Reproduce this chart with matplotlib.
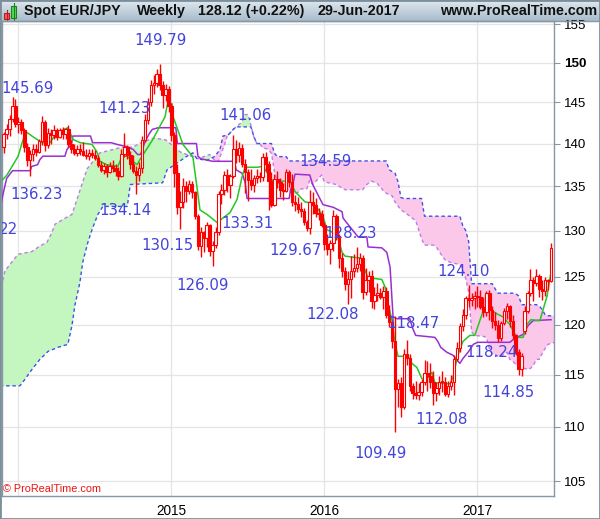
import numpy as np
import matplotlib
matplotlib.use("Agg")
import matplotlib.pyplot as plt
from matplotlib.patches import Rectangle
from matplotlib.lines import Line2D
from matplotlib.ticker import FixedLocator, NullLocator
from matplotlib.colors import LinearSegmentedColormap

# ---------------- data (weekly bars, index 0 = week of 2 Dec 2013) ----------------
opens = [139.6,141.1,141.7,142.9,144.5,142.4,142.6,141.6,139.6,138.0,
         138.8,139.4,139.0,140.3,142.6,139.8,141.3,141.0,141.6,140.8,
         141.6,141.2,141.7,139.9,139.3,138.9,139.4,139.1,138.7,138.5,
         138.9,138.6,138.3,137.5,136.9,137.4,136.6,137.3,137.1,136.8,
         136.2,138.8,139.6,138.6,137.6,136.8,136.3,137.1,140.4,142.8,
         145.0,147.2,147.4,148.6,147.1,145.9,146.7,144.6,141.0,136.5,
         132.6,133.2,135.0,134.5,135.3,134.3,131.6,128.3,129.8,129.2,
         130.6,127.8,128.4,129.8,134.1,134.6,136.3,135.1,136.2,139.3,
         138.6,139.5,137.6,136.6,135.7,135.1,136.0,136.2,136.1,138.4,
         137.6,135.6,132.9,135.8,135.5,134.6,134.5,136.6,135.5,133.2,
         133.0,132.4,132.2,130.9,130.3,133.2,132.9,132.0,131.8,130.6,
         128.5,128.0,128.6,131.6,129.4,127.0,125.6,124.2,124.7,125.6,
         125.9,126.3,127.0,123.4,124.6,125.1,122.4,123.1,123.3,122.9,
         123.5,121.0,120.3,118.3,113.6,114.2,111.9,117.0,116.6,113.9,
         113.2,113.0,113.3,114.3,115.2,114.9,114.3,113.2,113.7,114.3,
         114.3,113.1,113.9,114.3,116.5,117.6,119.9,121.0,122.7,122.5,
         122.7,123.0,122.8,121.8,121.3,123.3,121.5,120.4,120.0,118.6,
         120.2,121.4,121.9,120.4,118.9,117.2,115.5,119.3,121.4,123.3,
         124.6,124.3,125.1,123.7,123.5,124.6,124.5]
highs = [141.4,142.3,143.4,145.69,145.4,143.2,142.9,141.9,140.1,139.2,
         140.0,139.9,140.6,143.3,142.8,141.9,141.7,142.2,141.9,141.9,
         142.0,141.9,142.2,140.4,139.9,139.8,139.9,140.2,139.3,139.3,
         139.3,139.2,138.6,137.9,137.7,137.6,137.8,138.0,137.6,137.2,
         139.3,141.23,139.8,139.1,138.6,137.3,137.8,140.9,143.6,145.5,
         147.8,148.4,149.2,149.79,147.7,147.3,147.0,144.9,141.4,137.6,
         134.4,135.9,135.6,135.7,135.6,134.5,131.9,130.4,130.0,130.9,
         130.7,128.9,130.4,134.4,135.3,136.8,137.0,136.4,141.06,140.4,
         140.2,140.0,138.2,137.0,137.0,136.3,137.0,136.7,138.9,139.0,
         137.9,136.6,136.4,136.8,135.9,135.4,137.0,136.9,136.4,134.0,
         133.8,133.2,132.5,131.2,134.59,134.3,133.6,132.5,132.3,131.0,
         129.6,129.0,132.3,131.8,129.6,127.5,126.0,125.6,127.2,127.4,
         128.23,127.5,127.3,125.9,125.6,125.7,123.9,124.3,123.8,124.0,
         123.9,122.0,120.5,120.9,114.6,114.8,117.5,118.47,117.0,114.2,
         114.4,114.2,114.6,116.4,116.3,116.1,115.3,114.3,114.9,115.3,
         114.8,114.4,115.0,116.9,118.2,120.2,121.6,123.0,124.10,123.3,
         123.5,124.0,123.6,122.9,123.5,123.6,121.9,121.3,120.5,120.4,
         121.7,122.2,122.0,121.0,119.0,117.5,117.1,121.9,123.5,125.8,
         125.0,125.8,125.3,124.6,125.0,124.8,128.6]
lows = [138.9,140.6,140.9,142.6,142.0,141.3,141.2,139.0,137.4,136.23,
        137.9,138.5,138.9,139.8,139.1,139.5,139.9,140.5,140.4,140.7,
        140.6,140.5,139.6,138.9,138.6,138.5,138.7,138.5,138.2,138.0,
        138.3,138.1,137.2,136.6,136.4,136.1,136.5,136.7,136.2,135.7,
        136.1,138.4,138.2,137.0,136.5,134.14,135.6,136.5,140.2,142.4,
        144.6,146.0,146.9,146.5,144.3,145.2,143.8,140.3,134.9,131.9,
        130.15,132.5,133.2,134.1,133.7,131.3,127.9,127.1,127.6,128.2,
        127.2,126.09,128.1,129.5,133.0,134.0,134.3,133.6,135.9,137.7,
        137.8,137.2,134.2,133.31,134.6,134.3,135.4,135.5,135.6,136.8,
        132.3,132.6,132.7,134.8,133.8,133.4,134.3,134.9,132.8,132.2,
        132.0,131.5,130.6,130.0,129.67,131.9,131.5,131.2,130.4,127.9,
        127.3,126.4,127.8,129.0,125.9,125.0,123.6,122.08,122.7,125.0,
        125.5,125.6,122.6,123.1,123.4,121.7,121.6,122.4,122.6,121.6,
        120.7,119.8,117.6,109.49,111.9,110.9,111.7,115.9,113.4,112.6,
        112.6,112.5,112.9,114.0,113.4,113.7,112.08,112.4,113.0,113.3,
        112.9,112.8,113.5,113.0,116.3,117.2,119.3,120.6,121.8,121.9,
        121.6,121.8,121.6,120.8,120.9,120.5,119.7,119.4,118.24,118.3,
        120.0,120.6,119.8,118.5,116.9,115.0,114.85,119.0,121.2,123.0,
        122.4,124.0,122.8,122.5,123.0,123.6,124.4]
closes = [141.1,141.7,142.9,144.5,142.4,142.6,141.6,139.6,138.0,138.8,
          139.4,139.0,140.3,142.6,139.8,141.3,141.0,141.6,140.8,141.6,
          141.2,141.7,139.9,139.3,138.9,139.4,139.1,138.7,138.5,138.9,
          138.6,138.3,137.5,136.9,137.4,136.6,137.3,137.1,136.8,136.2,
          138.8,139.6,138.6,137.6,136.8,136.3,137.1,140.4,142.8,145.0,
          147.2,147.4,148.6,147.1,145.9,146.7,144.6,141.0,136.5,132.6,
          133.2,135.0,134.5,135.3,134.3,131.6,128.3,129.8,129.2,130.6,
          127.8,128.4,129.8,134.1,134.6,136.3,135.1,136.2,139.3,138.6,
          139.5,137.6,136.6,135.7,135.1,136.0,136.2,136.1,138.4,137.6,
          135.6,132.9,135.8,135.5,134.6,134.5,136.6,135.5,133.2,133.0,
          132.4,132.2,130.9,130.3,133.2,132.9,132.0,131.8,130.6,128.5,
          128.0,128.6,131.6,129.4,127.0,125.6,124.2,124.7,125.6,125.9,
          126.3,127.0,123.4,124.6,125.1,122.4,123.1,123.3,122.9,123.5,
          121.0,120.3,118.3,113.6,114.2,111.9,117.0,116.6,113.9,113.2,
          113.0,113.3,114.3,115.2,114.9,114.3,113.2,113.7,114.3,114.3,
          113.1,113.9,114.3,116.5,117.6,119.9,121.0,122.7,122.5,122.7,
          123.0,122.8,121.8,121.3,123.3,121.5,120.4,120.0,118.6,120.2,
          121.4,121.9,120.4,118.9,117.2,115.5,116.8,121.4,123.3,124.6,
          124.3,125.1,123.7,123.5,124.6,124.5,128.12]

year_bars = [5, 57, 109, 161]
year_labels = ["", "2015", "2016", "2017"]
y_ticks = [105, 110, 115, 120, 125, 130, 135, 140, 145, 150, 155]

# Ichimoku lines (bar index, price)
tenkan_bar = [-1.3,1.1,3.2,4.9,6.6,7.6,10,13,15.7,18,21.8,23.5,26,30,31.7,32.7,35,38.8,40.2,41.9,
              45.3,46.3,50.7,53.1,54.8,55.8,57.2,57.5,60.9,64.3,66.7,69.1,72.5,76.9,79.3,81,82,86.1,
              88.1,89.8,91.5,97.3,99,102.4,105.1,107.5,108.5,109.8,113.2,115,116,121,122.2,123.8,
              128.5,129.6,130.6,131.9,133,134,137.4,138.7,140.4,142.1,143.8,145.5,146.5,151.7,152.7,
              154,155,156.1,158.4,160.1,161.8,162.9,165.2,167.6,169.6,172,174.3,176.5,178,179.2,
              182.2,184.6,186]
tenkan_val = [135.4,136.3,137.5,138.5,140.5,141.4,140.8,140.1,140.1,141.3,141.9,140.5,140.1,139.9,
              139.0,137.9,137.5,137.3,138.5,138.5,137.5,138.1,140.5,142.1,143.2,145.1,144.8,143.3,
              139.9,138.4,132.3,131.8,130.9,132.0,133.5,136.1,137.2,137.2,137.3,136.4,135.6,135.6,
              134.4,133.2,133.1,132.1,131.6,130.1,129.6,127.6,127.2,127.0,126.1,124.9,124.7,123.9,
              122.2,120.5,118.1,116.8,116.8,116.1,115.7,114.6,114.6,115.2,114.2,114.1,114.8,116.5,
              117.5,118.3,118.9,118.9,120.4,121.4,121.6,121.1,120.8,120.0,118.7,118.7,120.1,120.5,
              120.4,122.9,125.5]
kijun_bar = [-1.3,-0.3,1.0,3.0,9.0,9.5,11.5,12.3,13.3,20.8,21.5,23.0,23.5,29.5,30.2,36.5,38.5,42.0,
             44.0,45.5,46.5,48.0,49.5,50.5,52.5,58.5,59.0,65.5,66.0,67.0,71.0,78.5,79.0,81.0,82.0,
             82.7,97.0,97.5,98.3,99.0,104.0,105.0,106.5,108.5,112.0,115.0,115.3,117.7,120.4,123.4,
             123.8,128.5,130.2,131.3,132.3,133.6,138.0,139.0,140.0,146.5,147.5,148.5,150.6,152.7,
             155.0,156.1,157.8,159.6,161.0,172.0,173.7,176.5,178.2,179.9,186.0]
kijun_val = [132.3,134.0,135.9,136.8,136.8,137.3,137.5,138.1,138.5,138.5,139.3,139.9,140.9,140.9,
             140.1,140.1,139.9,139.6,139.3,138.7,138.7,140.2,141.2,141.7,141.9,141.9,140.0,140.0,
             138.5,138.2,137.9,137.9,136.9,136.5,135.5,133.6,133.6,134.6,135.3,136.4,136.3,135.2,
             134.2,132.9,132.6,132.1,131.4,130.4,129.3,129.3,128.2,128.1,127.6,126.0,120.8,120.6,
             120.6,119.6,118.9,118.7,118.3,117.7,117.2,116.9,116.1,116.6,117.2,118.0,118.2,118.2,
             118.6,119.0,119.9,120.4,120.5]
span_a_bar = [-1.3,0.4,2.1,4.9,9.6,12.3,14.7,16.4,17.4,21.5,23.2,24.9,28.3,32.7,39.5,44.0,47.3,51,
              55,60,66,70,72,73,74,75,76,77,78,80,81,82,83,84,85,86,87,88,89,90,91,92,93,94,96,97,
              99,100,101,103,104,105,107,108,109,113,116,122,123,125,127,129,130,132,133,135,136,
              138,140,141,142,143,146,147,148,149,150,152,155,156,157,158,159,160,163,164,165,166,
              167,168,169,170,171,172,173,174,175,177,178,179,180,181,182,183,184,185,187.3]
span_a_val = [123.3,125.6,126.3,127.4,127.7,128.3,128.7,129.8,130.7,131.5,131.8,133.5,137.0,138.9,
              139.5,139.6,140.2,140.65,140.45,139.0,138.2,138.7,137.9,137.9,138.9,139.8,141.0,141.3,
              141.7,142.3,142.6,143.5,143.5,142.2,140.8,140.0,140.0,139.5,139.4,139.3,138.8,136.7,
              135.4,135.0,134.9,134.4,134.1,134.3,134.7,134.7,135.7,135.2,135.9,136.3,135.5,135.2,
              134.6,134.6,135.1,135.6,135.3,134.5,134.2,133.9,133.2,132.3,132.1,131.6,131.1,130.1,
              129.1,128.4,128.4,128.2,127.7,127.2,126.8,126.5,126.3,125.75,124.8,123.35,119.25,
              118.9,118.8,118.7,117.6,117.0,117.0,116.8,116.8,117.0,117.2,116.5,116.3,116.0,115.9,
              115.6,115.5,115.6,115.9,116.5,116.5,117.1,117.6,118.0,118.2]
span_b_bar = [-1.3,5.5,6.6,9.6,12.3,15.1,18.5,21.8,23.2,24.2,25.9,26.9,28.6,30.0,32.0,33.7,42.0,43.0,
              54.0,55.5,62.3,64.3,65.7,69.1,71.8,73.5,74.5,76.2,77,78,79,84,85,86,91,92,93,96,97,
              130,131,132,133,134,135,136,142,143,155,156,157,158,159,166,167,168,173,174,175,176,
              181,182,183,184,185,187.3]
span_b_val = [113.9,113.9,114.3,115.5,116.5,117.3,117.7,118.0,119.9,122.0,124.4,126.6,128.7,130.1,
              131.8,132.7,132.7,135.2,135.4,136.9,138.5,138.9,138.2,138.0,138.5,139.3,140.9,141.0,
              141.3,141.7,142.0,142.0,140.85,140.0,140.0,138.85,138.45,138.45,137.94,137.94,136.9,
              136.7,136.5,135.5,133.7,133.6,133.6,131.6,131.6,130.55,130.0,128.8,124.25,124.25,
              123.7,123.25,123.25,123.2,122.95,122.05,122.05,121.9,121.55,121.0,120.9,120.9]

swing_labels = ["145.69", "136.23", "22", "141.23", "134.14", "149.79", "130.15", "126.09",
                "141.06", "133.31", "134.59", "129.67", "128.23", "122.08", "118.47", "124.10",
                "118.24", "114.85", "112.08", "109.49"]

# ---------------- layout ----------------
W, H = 600, 519
label_anchor = [(7.9, 146.7), (11.3, 134.1), (4.86, 130.1), (40.9, 144.2), (41.2, 132.2),
                (53.1, 152.9), (55.8, 128.4), (67.7, 124.1), (82.0, 143.4), (82.7, 130.8),
                (109.5, 137.9), (99.0, 127.8), (117.7, 129.7), (111.9, 121.0), (139.1, 120.1),
                (156.1, 125.6), (165.9, 117.2), (171.4, 113.3), (148.9, 110.7), (127.9, 107.5)]

RED = "#ff0000"
GRID = "#e4e4e4"
FRAME = "#8797a5"

fig = plt.figure(figsize=(W / 100, H / 100), dpi=100)
fig.patch.set_facecolor("white")


def rect(l, t, r, b):
    return [l / W, 1 - b / H, (r - l) / W, (b - t) / H]


# title bar
tb = fig.add_axes(rect(0, 0, 600, 21))
cmap = LinearSegmentedColormap.from_list("tb", ["#dfe8ee", "#a8bccb"])
tb.imshow(np.linspace(0, 1, 50).reshape(-1, 1), aspect="auto", cmap=cmap,
          extent=[0, 600, 21, 0])
tb.set_xlim(0, 600)
tb.set_ylim(21, 0)
tb.axis("off")
tb.plot([6.5, 6.5], [10, 21], color="#b02020", lw=0.8)
tb.add_patch(Rectangle((4, 13), 5, 6, facecolor="#f06060", edgecolor="#b02020", lw=0.8))
tb.plot([13.5, 13.5], [3, 20], color="#208020", lw=0.8)
tb.add_patch(Rectangle((11, 6), 5, 12, facecolor="#50dd50", edgecolor="#208020", lw=0.8))
tfont = dict(fontsize=10.3, fontweight="bold", family="Liberation Sans", va="center",
             color="#111111")
tb.text(24, 11, "Spot EUR/JPY", ha="left", **tfont)
tb.text(137, 11, "Weekly", ha="left", **tfont)
tb.text(198, 11, "128.12 (+0.22%)", ha="left", **tfont)
tb.text(318, 11, "29-Jun-2017", ha="left", **tfont)
tb.text(597, 11, "www.ProRealTime.com", ha="right", **tfont)

# main chart
ax = fig.add_axes(rect(2, 21, 554, 496))
ax.set_facecolor("white")
ax.set_yscale("log")
ax.set_xlim(-0.58, 187.0)
ax.set_ylim(103.7, 155.4)

for t in y_ticks:
    ax.axhline(t, color=GRID, lw=0.9, zorder=0)
for b in year_bars:
    ax.axvline(b, color=GRID, lw=0.9, zorder=0)

# cloud
grid = np.linspace(-1.3, 187.3, 4000)
sa = np.interp(grid, span_a_bar, span_a_val)
sb = np.interp(grid, span_b_bar, span_b_val)
ax.fill_between(grid, sa, sb, where=sa >= sb, interpolate=True, color="#c4f7bf", lw=0, zorder=1)
ax.fill_between(grid, sa, sb, where=sa < sb, interpolate=True, color="#fcc8ea", lw=0, zorder=1)
ax.plot(span_a_bar, span_a_val, color="#c07ce6", lw=1.0, dashes=(2.5, 2), zorder=2)
ax.plot(span_b_bar, span_b_val, color="#3f52e6", lw=1.0, dashes=(2.5, 2), zorder=2)

ax.plot(kijun_bar, kijun_val, color="#9a2fd0", lw=1.1, zorder=3)
ax.plot(tenkan_bar, tenkan_val, color="#25c625", lw=1.1, zorder=3)

# candles
idx = np.arange(len(closes))
o = np.array(opens); c = np.array(closes); h = np.array(highs); l = np.array(lows)
ax.vlines(idx, l, h, color=RED, lw=1.0, zorder=4)
bottom = np.minimum(o, c)
height = np.maximum(np.abs(c - o), 0.08)
face = [RED if cc < oo else "white" for oo, cc in zip(o, c)]
ax.bar(idx, height, bottom=bottom, width=0.86, color=face, edgecolor=RED, linewidth=0.8, zorder=5)

# swing labels
for txt, (bx, py) in zip(swing_labels, label_anchor):
    ha = "right" if txt == "22" else "center"
    ax.text(bx, py, txt, color="#4343dc", fontsize=10.8, family="DejaVu Sans", ha=ha,
            va="center", zorder=7, clip_on=True)

# axes styling
ax.yaxis.set_major_locator(FixedLocator(y_ticks))
ax.yaxis.set_minor_locator(NullLocator())
ax.set_yticks(y_ticks)
ax.set_yticklabels([str(t) for t in y_ticks])
ax.yaxis.tick_right()
ax.tick_params(axis="y", length=4, width=0.8, color=FRAME, pad=3, labelsize=9.6)
for lab in ax.get_yticklabels():
    lab.set_fontfamily("Liberation Sans")
    if lab.get_text() == "150":
        lab.set_fontweight("bold")
ax.set_xticks(year_bars[1:])
ax.set_xticklabels(year_labels[1:])
ax.xaxis.set_minor_locator(NullLocator())
ax.tick_params(axis="x", length=0, pad=6, labelsize=9.8)
for lab in ax.get_xticklabels():
    lab.set_fontfamily("Liberation Sans")
for s in ax.spines.values():
    s.set_color(FRAME)
    s.set_linewidth(1.0)

fig.text(3 / W, 1 - 489 / H, "\u00a9 ProRealTime.com", color="#ee1111", fontsize=7.8,
         family="Liberation Sans", va="center", ha="left")

fig.add_artist(Line2D([0, 1], [1 - 21 / H, 1 - 21 / H], transform=fig.transFigure,
                      color=FRAME, lw=1.0))
fig.add_artist(Rectangle((0, 0), 1, 1, transform=fig.transFigure, fill=False,
                         edgecolor="#7c8e9c", lw=2.0))

fig.savefig("out.png", dpi=100)
